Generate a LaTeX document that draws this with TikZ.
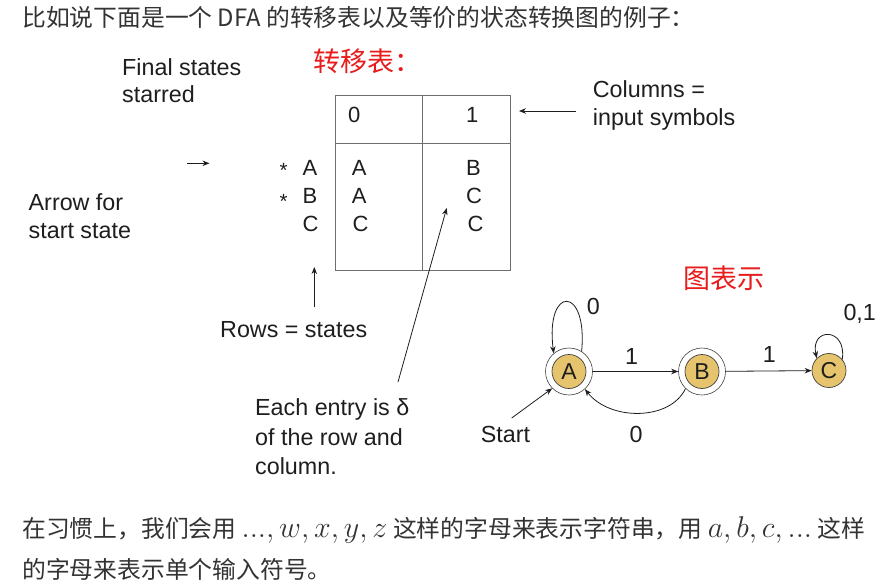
\RequirePackage{fix-cm}
\documentclass[tikz,border=0pt]{standalone}
\usepackage{fontspec}
\setmainfont{Liberation Sans}
\newfontfamily\cjkfont{Noto Sans CJK SC}
\usetikzlibrary{arrows.meta}
\definecolor{txt}{RGB}{30,30,30}
\definecolor{paratxt}{RGB}{51,51,51}
\definecolor{tblline}{RGB}{110,110,110}
\definecolor{statefill}{RGB}{230,196,110}
\definecolor{hand}{RGB}{232,28,28}
\newcommand{\bigmath}[1]{{\fontsize{30}{32}\selectfont$#1$}}
\begin{document}
\begin{tikzpicture}[x=1pt,y=-1pt,
  lbl/.style={anchor=base west, inner sep=0pt, text=txt, font=\fontsize{23.3}{28}\selectfont},
  cell/.style={anchor=base west, inner sep=0pt, text=txt, font=\fontsize{22}{26}\selectfont},
  starmark/.style={anchor=base west, inner sep=0pt, text=txt, font=\fontsize{20.5}{22}\selectfont},
  paraline/.style={anchor=west, inner sep=0pt, text=paratxt, font=\cjkfont\fontsize{23.8}{28}\selectfont},
  handtxt/.style={anchor=west, inner sep=0pt, text=hand, font=\cjkfont\fontsize{27}{30}\selectfont},
  arr/.style={-{Stealth[length=7pt,width=5.5pt]}, line width=0.8pt, draw=txt},
  tbl/.style={draw=tblline, line width=0.9pt},
  state/.style={circle, draw=txt!85, line width=0.7pt, fill=statefill, minimum size=34pt, inner sep=0pt, font=\fontsize{23}{28}\selectfont, text=txt},
  ring/.style={circle, draw=txt!85, line width=0.6pt, minimum size=47pt, inner sep=0pt}
]
\useasboundingbox (0,0) rectangle (893,586);
\fill[white] (0,0) rectangle (893,586);

% paragraph texts
\node[paraline] (top) at (22,17) {比如说下面是一个 DFA 的转移表以及等价的状态转换图的例子：};
\node[paraline] (bot1) at (22,530) {在习惯上，我们会用 \bigmath{..., w, x, y, z} 这样的字母来表示字符串，用 \bigmath{a, b, c, ...} 这样};
\node[paraline] (bot2) at (22,569) {的字母来表示单个输入符号。};

% handwritten notes
\node[handtxt] (hand1) at (313,61) {转移表：};
\node[handtxt] (hand2) at (683,278) {图表示};

% labels around table
\node[lbl] (fs1) at (122,75) {Final states};
\node[lbl] (fs2) at (122,102) {starred};
\node[lbl] (col1) at (592.7,97.3) {Columns =};
\node[lbl] (col2) at (592.7,125) {input symbols};
\node[lbl] (afs1) at (28.5,210) {Arrow for};
\node[lbl] (afs2) at (28.5,238.3) {start state};
\node[lbl] (rows) at (220,337.7) {Rows = states};
\node[lbl] (ee1) at (255,415.7) {Each entry is δ};
\node[lbl] (ee2) at (255,445.5) {of the row and};
\node[lbl] (ee3) at (255,474) {column.};

% table
\draw[tbl] (335,95) rectangle (510,270);
\draw[tbl] (422,95) -- (422,270);
\draw[tbl] (335,143) -- (510,143);
\node[cell] (h0) at (348,122.7) {0};
\node[cell] (h1) at (466,122.7) {1};
\node[starmark] (s1) at (279.5,177.5) {*};
\node[starmark] (s2) at (279.5,208) {*};
\node[cell] (rA) at (302.5,175) {A};
\node[cell] (rB) at (302.5,203.3) {B};
\node[cell] (rC) at (302.5,231.7) {C};
\node[cell] (c0A) at (351.7,175) {A};
\node[cell] (c0B) at (351.7,203.3) {A};
\node[cell] (c0C) at (352.3,231.7) {C};
\node[cell] (c1A) at (466,175) {B};
\node[cell] (c1B) at (466,203.3) {C};
\node[cell] (c1C) at (467.5,231.7) {C};

% annotation arrows
\coordinate (colTail) at (576,111);
\coordinate (colTip) at (519,111);
\coordinate (stTail) at (187,163.3);
\coordinate (stTip) at (209.5,163.3);
\coordinate (rowTail) at (314.3,307);
\coordinate (rowTip) at (314.3,267);
\coordinate (eeTail) at (398,382);
\coordinate (eeTip) at (446.7,208);
\draw[arr] (colTail) -- (colTip);
\draw[arr] (stTail) -- (stTip);
\draw[arr] (rowTail) -- (rowTip);
\draw[arr] (eeTail) -- (eeTip);

% state diagram
\node[ring] (Ar) at (569,371.5) {};
\node[state] (A) at (569,371.5) {A};
\node[ring] (Br) at (702,371.5) {};
\node[state] (B) at (702,371.5) {B};
\node[state] (C) at (829,370.5) {C};

\draw[arr] (Ar) -- (Br);
\draw[arr] (Br) -- (C);
\draw[arr] (Ar.58) .. controls (588,285) and (545,285) .. (Ar.130);
\draw[arr] (Br.226) .. controls (670,421) and (610,421) .. (Ar.312);
\draw[arr] (C.40) .. controls (847,327) and (810,327) .. (C.135);
\coordinate (startTail) at (511.7,418);
\draw[arr] (startTail) -- (Ar.225);

\node[lbl] (l0a) at (586.7,314) {0};
\node[lbl] (l1ab) at (625,364) {1};
\node[lbl] (l1bc) at (762.7,362.3) {1};
\node[lbl] (l01) at (843.3,320) {0,1};
\node[lbl] (l0ba) at (629.3,442.7) {0};
\node[lbl] (startlbl) at (480.7,442.7) {Start};
\end{tikzpicture}
\end{document}
